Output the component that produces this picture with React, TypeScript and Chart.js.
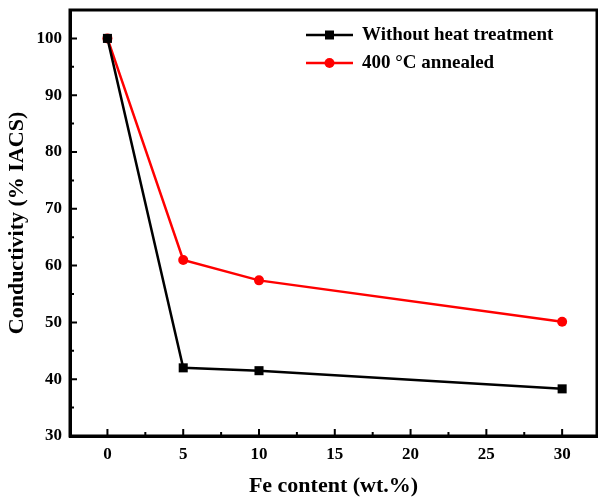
import React, { useEffect, useRef } from "react";
import { Chart, registerables } from "chart.js";

Chart.register(...registerables);

const feContent = [0, 5, 10, 30];
const withoutHeat = [100, 42.0, 41.5, 38.3];
const annealed = [100, 61.0, 57.4, 50.1];
const seriesNames = ["Without heat treatment", "400 °C annealed"];
const xTickValues = [0, 5, 10, 15, 20, 25, 30];
const yTickValues = [30, 40, 50, 60, 70, 80, 90, 100];
const xMinorValues = [2.5, 7.5, 12.5, 17.5, 22.5, 27.5];
const yMinorValues = [35, 45, 55, 65, 75, 85, 95];

const FONT = "'Liberation Serif', 'Times New Roman', serif";

const framePlugin = {
  id: "frameTicks",
  afterDraw(chart: any) {
    const ctx = chart.ctx;
    const { left, right, top, bottom } = chart.chartArea;
    const xs = chart.scales.x;
    const ys = chart.scales.y;
    ctx.save();
    ctx.strokeStyle = "#000";
    ctx.lineWidth = 3;
    ctx.beginPath();
    ctx.moveTo(left, bottom);
    ctx.lineTo(left, top);
    ctx.lineTo(right, top);
    ctx.lineTo(right, bottom);
    ctx.lineTo(left, bottom);
    ctx.closePath();
    ctx.stroke();
    ctx.lineWidth = 2;
    ctx.beginPath();
    xTickValues.forEach((v) => {
      const px = xs.getPixelForValue(v);
      ctx.moveTo(px, bottom);
      ctx.lineTo(px, bottom - 7);
    });
    xMinorValues.forEach((v) => {
      const px = xs.getPixelForValue(v);
      ctx.moveTo(px, bottom);
      ctx.lineTo(px, bottom - 4);
    });
    yTickValues.forEach((v) => {
      const py = ys.getPixelForValue(v);
      ctx.moveTo(left, py);
      ctx.lineTo(left + 7, py);
    });
    yMinorValues.forEach((v) => {
      const py = ys.getPixelForValue(v);
      ctx.moveTo(left, py);
      ctx.lineTo(left + 4, py);
    });
    ctx.stroke();

    // legend
    const lx0 = left + 236;
    const lx1 = lx0 + 47;
    const rows = [top + 25, top + 53];
    chart.data.datasets.forEach((ds: any, i: number) => {
      const y = rows[i];
      ctx.strokeStyle = ds.borderColor;
      ctx.lineWidth = 2.5;
      ctx.beginPath();
      ctx.moveTo(lx0, y);
      ctx.lineTo(lx1, y);
      ctx.stroke();
      const cx = (lx0 + lx1) / 2;
      ctx.fillStyle = ds.backgroundColor;
      ctx.beginPath();
      if (ds.pointStyle === "rect") {
        ctx.rect(cx - 4.5, y - 4.5, 9, 9);
      } else {
        ctx.arc(cx, y, 5, 0, Math.PI * 2);
      }
      ctx.fill();
      ctx.fillStyle = "#000";
      ctx.font = `bold 19px ${FONT}`;
      ctx.textBaseline = "middle";
      ctx.textAlign = "left";
      ctx.fillText(ds.label, lx1 + 9, y);
    });
    ctx.restore();
  },
};

export default function App() {
  const ref = useRef<HTMLCanvasElement>(null);
  useEffect(() => {
    document.body.style.margin = "0";
    const zeroPad = (s: any) => {
      s.paddingTop = 0;
      s.paddingBottom = 0;
      s.paddingLeft = 0;
      s.paddingRight = 0;
    };
    const chart = new Chart(ref.current!, {
      type: "line",
      data: {
        datasets: [
          {
            label: seriesNames[0],
            data: feContent.map((x, i) => ({ x, y: withoutHeat[i] })),
            borderColor: "#000000",
            backgroundColor: "#000000",
            borderWidth: 2.5,
            pointStyle: "rect",
            pointRadius: 6.4,
            pointBorderWidth: 0,
            tension: 0,
            clip: false,
          },
          {
            label: seriesNames[1],
            data: feContent.map((x, i) => ({ x, y: annealed[i] })),
            borderColor: "#ff0000",
            backgroundColor: "#ff0000",
            borderWidth: 2.5,
            pointStyle: "circle",
            pointRadius: 5,
            pointBorderWidth: 0,
            tension: 0,
            clip: false,
          },
        ],
      },
      options: {
        animation: false,
        responsive: false,
        maintainAspectRatio: false,
        layout: { autoPadding: false, padding: { top: 10, right: 1, left: 0, bottom: 0 } },
        plugins: { legend: { display: false }, tooltip: { enabled: false } },
        scales: {
          x: {
            type: "linear",
            min: -2.47,
            max: 32.3,
            afterBuildTicks: (s: any) => {
              s.ticks = xTickValues.map((v) => ({ value: v }));
            },
            afterFit: (s: any) => {
              s.height = 66;
              zeroPad(s);
            },
            grid: { display: false, drawTicks: false },
            border: { display: true, color: "#000", width: 3 },
            ticks: {
              color: "#000",
              font: { family: FONT, size: 17, weight: "bold" },
              padding: 8,
              maxRotation: 0,
            },
            title: {
              display: true,
              text: "Fe content (wt.%)",
              color: "#000",
              font: { family: FONT, size: 22, weight: "bold" },
              padding: { top: 0, bottom: 2 },
            },
          },
          y: {
            type: "linear",
            min: 30,
            max: 105,
            afterBuildTicks: (s: any) => {
              s.ticks = yTickValues.map((v) => ({ value: v }));
            },
            afterFit: (s: any) => {
              s.width = 70;
              zeroPad(s);
            },
            grid: { display: false, drawTicks: false },
            border: { display: true, color: "#000", width: 3 },
            ticks: {
              color: "#000",
              font: { family: FONT, size: 17, weight: "bold" },
              padding: 8,
            },
            title: {
              display: true,
              text: "Conductivity (% IACS)",
              color: "#000",
              font: { family: FONT, size: 22, weight: "bold" },
              padding: { top: 4, bottom: 0 },
            },
          },
        },
      },
      plugins: [framePlugin],
    } as any);
    return () => chart.destroy();
  }, []);
  return (
    <div style={{ position: "absolute", left: 0, top: 0, width: 598, height: 502, background: "#fff" }}>
      <canvas ref={ref} width={598} height={502} style={{ width: 598, height: 502 }} />
    </div>
  );
}
